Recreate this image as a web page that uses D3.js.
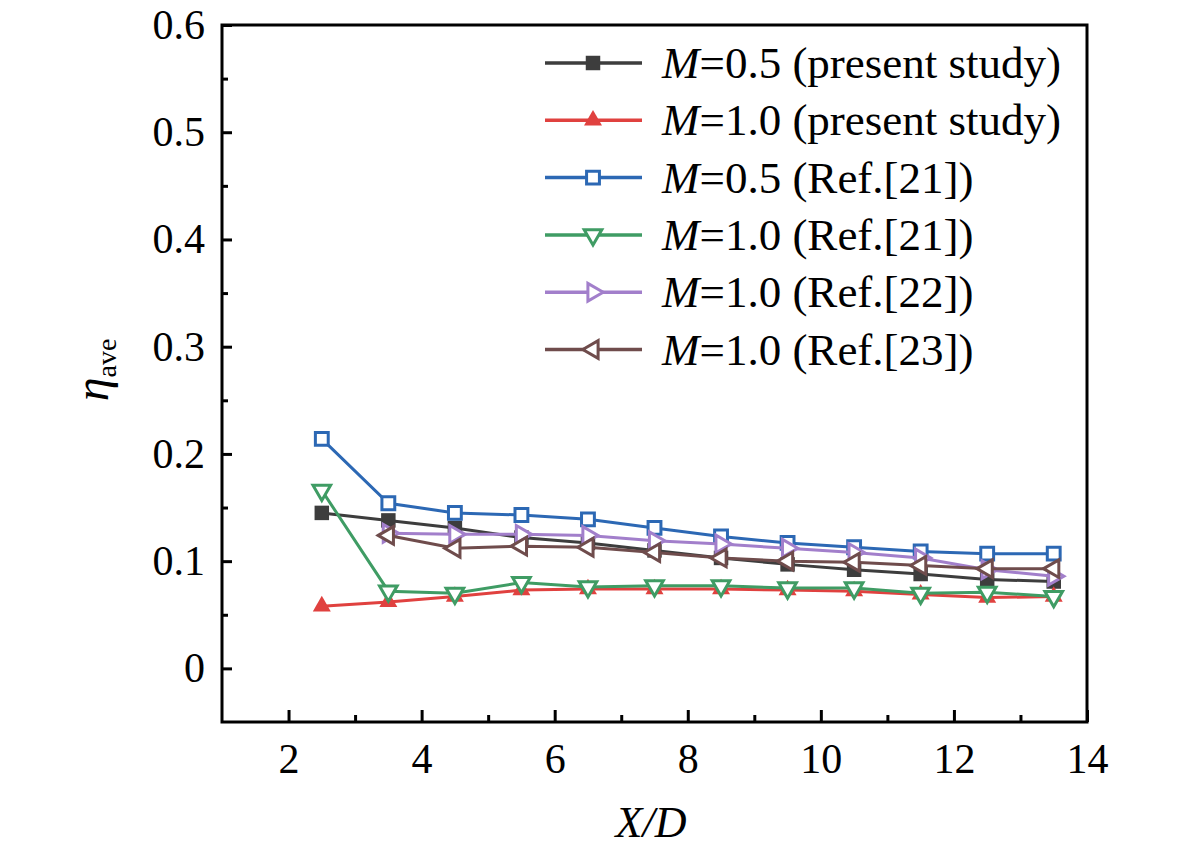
<!DOCTYPE html>
<html>
<head>
<meta charset="utf-8">
<script src="https://cdn.jsdelivr.net/npm/d3@7"></script>
<style>
  html, body { margin: 0; padding: 0; background: #fff; }
  svg { display: block; font-family: "Liberation Serif", "Times New Roman", serif; }
</style>
</head>
<body>
<svg id="chart" width="1181" height="852"></svg>
<script>
// ── DATA ─────────────────────────────────────────────────────
const xPos = [2.5, 3.5, 4.5, 5.5, 6.5, 7.5, 8.5, 9.5, 10.5, 11.5, 12.5, 13.5];

const m05Present = [0.145, 0.138, 0.131, 0.122, 0.117, 0.110, 0.103, 0.097, 0.092, 0.088, 0.083, 0.081];
const m10Present = [0.058, 0.062, 0.067, 0.073, 0.074, 0.074, 0.074, 0.073, 0.072, 0.069, 0.066, 0.067];
const m05Ref21   = [0.214, 0.154, 0.145, 0.143, 0.139, 0.131, 0.123, 0.117, 0.113, 0.109, 0.107, 0.107];
const m10Ref21   = [0.166, 0.072, 0.070, 0.080, 0.076, 0.077, 0.077, 0.075, 0.075, 0.070, 0.071, 0.067];
const m10Ref22   = [null, 0.126, 0.125, 0.125, 0.124, 0.119, 0.116, 0.112, 0.108, 0.103, 0.092, 0.086];
const m10Ref23   = [null, 0.124, 0.112, 0.114, 0.113, 0.108, 0.103, 0.100, 0.099, 0.096, 0.093, 0.093];

const seriesLabels = ['=0.5 (present study)', '=1.0 (present study)', '=0.5 (Ref.[21])',
                      '=1.0 (Ref.[21])', '=1.0 (Ref.[22])', '=1.0 (Ref.[23])'];

const xMajorTicks = [2, 4, 6, 8, 10, 12, 14];
const xMinorTicks = [3, 5, 7, 9, 11, 13];
const yMajorTicks = [0, 0.1, 0.2, 0.3, 0.4, 0.5, 0.6];
const yMinorTicks = [0.05, 0.15, 0.25, 0.35, 0.45, 0.55];

// ── STYLE ────────────────────────────────────────────────────
const series = [
  { values: m05Present, color: '#3d3d3d', shape: 'square',   filled: true },
  { values: m10Present, color: '#e0413f', shape: 'triUp',    filled: true },
  { values: m05Ref21,   color: '#2c68b4', shape: 'square',   filled: false },
  { values: m10Ref21,   color: '#3f9c64', shape: 'triDown',  filled: false },
  { values: m10Ref22,   color: '#a27fcb', shape: 'triRight', filled: false },
  { values: m10Ref23,   color: '#6f4c4c', shape: 'triLeft',  filled: false }
];
series.forEach((s, i) => { s.label = seriesLabels[i]; });

// ── SETUP ────────────────────────────────────────────────────
const L = 222, R = 1087, T = 25, B = 722;
const svg = d3.select('#chart');

const x = d3.scaleLinear().domain([1, 14]).range([L, R]);
const y = d3.scaleLinear().domain([-0.05, 0.6]).range([B, T]);

// ── AXES ─────────────────────────────────────────────────────
function styleAxis(g) {
  g.select('.domain').remove();
  g.selectAll('line').attr('stroke', '#000').attr('stroke-width', 3);
  g.selectAll('text').attr('font-size', 42).attr('fill', '#000')
    .attr('font-family', '"Liberation Serif", "Times New Roman", serif');
}

svg.append('g').attr('transform', `translate(0,${B})`)
  .call(d3.axisBottom(x).tickValues(xMajorTicks).tickSize(-12).tickPadding(21).tickFormat(d3.format('d')))
  .call(styleAxis);
svg.append('g').attr('transform', `translate(0,${B})`)
  .call(d3.axisBottom(x).tickValues(xMinorTicks).tickSize(-7).tickFormat(''))
  .call(styleAxis);

svg.append('g').attr('transform', `translate(${L},0)`)
  .call(d3.axisLeft(y).tickValues(yMajorTicks).tickSize(-10).tickPadding(17)
    .tickFormat(d => d === 0 ? '0' : d.toFixed(1)))
  .call(styleAxis);
svg.append('g').attr('transform', `translate(${L},0)`)
  .call(d3.axisLeft(y).tickValues(yMinorTicks).tickSize(-6).tickFormat(''))
  .call(styleAxis);

// frame
svg.append('rect')
  .attr('x', L).attr('y', T).attr('width', R - L).attr('height', B - T)
  .attr('fill', 'none').attr('stroke', '#000').attr('stroke-width', 3);

// axis titles
svg.append('text')
  .attr('x', 651).attr('y', 837)
  .attr('text-anchor', 'middle')
  .attr('font-size', 44)
  .attr('font-style', 'italic')
  .text('X/D');

const yTitle = svg.append('text')
  .attr('transform', 'translate(108,370) rotate(-90)')
  .attr('text-anchor', 'middle')
  .attr('font-size', 48);
yTitle.append('tspan').attr('font-style', 'italic').text('η');
yTitle.append('tspan').attr('font-size', 28).attr('dy', 8).text('ave');

// ── MARKERS ──────────────────────────────────────────────────
const symSquare = d3.symbol().type(d3.symbolSquare);
const symTri = d3.symbol().type(d3.symbolTriangle);
const rot = { triUp: 0, triRight: 90, triDown: 180, triLeft: 270 };

function drawMarker(g, s, cx, cy) {
  const isSquare = s.shape === 'square';
  const d = isSquare
    ? symSquare.size(s.filled ? 210 : 165)()
    : symTri.size(s.filled ? 140 : 135)();
  g.append('path')
    .attr('d', d)
    .attr('transform', `translate(${cx},${cy}) rotate(${isSquare ? 0 : rot[s.shape]})`)
    .attr('fill', s.filled ? s.color : '#fff')
    .attr('stroke', s.color)
    .attr('stroke-width', s.filled ? 0 : 3);
}

// ── SERIES ───────────────────────────────────────────────────
const line = d3.line()
  .defined(d => d.v !== null)
  .x(d => x(d.x))
  .y(d => y(d.v));

const plot = svg.append('g');
series.forEach(s => {
  const pts = xPos.map((xv, i) => ({ x: xv, v: s.values[i] }));
  const g = plot.append('g');
  g.append('path')
    .datum(pts)
    .attr('d', line)
    .attr('fill', 'none')
    .attr('stroke', s.color)
    .attr('stroke-width', 3);
  pts.filter(p => p.v !== null).forEach(p => drawMarker(g, s, x(p.x), y(p.v)));
});

// ── LEGEND ───────────────────────────────────────────────────
const legend = svg.append('g');
series.forEach((s, i) => {
  const cy = 63 + i * 57.3;
  const g = legend.append('g');
  g.append('line')
    .attr('x1', 545).attr('x2', 642).attr('y1', cy).attr('y2', cy)
    .attr('stroke', s.color).attr('stroke-width', 3.5);
  drawMarker(g, s, 593, cy);
  const t = g.append('text')
    .attr('x', 662).attr('y', cy + 15)
    .attr('font-size', 45);
  t.append('tspan').attr('font-style', 'italic').text('M');
  t.append('tspan').text(s.label);
});
</script>
</body>
</html>
